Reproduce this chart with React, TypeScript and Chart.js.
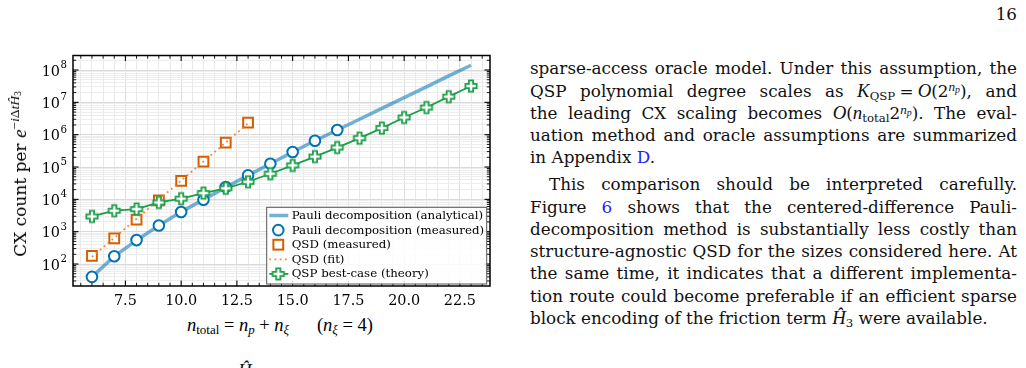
import React, { useEffect, useRef } from 'react';
import { Chart, registerables } from 'chart.js';

Chart.register(...registerables);

// ---------------- data ----------------
const nAnalytical = [6, 7, 8, 9, 10, 11, 12, 13, 14, 15, 16, 17, 18, 19, 20, 21, 22, 23];
const pauliAnalytical = [40, 172, 540, 1550, 4100, 9800, 23500, 55000, 126000, 290000, 650000, 1.4e6, 3.0e6, 6.5e6, 1.4e7, 3.0e7, 6.6e7, 1.4e8];
const nPauliMeasured = [6, 7, 8, 9, 10, 11, 12, 13, 14, 15, 16, 17];
const pauliMeasured = [40, 174, 550, 1550, 4070, 9700, 24000, 55000, 126000, 290000, 650000, 1.4e6];
const nQsd = [6, 7, 8, 9, 10, 11, 12, 13];
const qsdMeasured = [180, 620, 2350, 9300, 37000, 148000, 570000, 2.35e6];
const qsdFit = [166, 646, 2510, 9770, 38000, 148000, 575000, 2.24e6];
const nQsp = [6, 7, 8, 9, 10, 11, 12, 13, 14, 15, 16, 17, 18, 19, 20, 21, 22, 23];
const qspTheory = [2950, 4450, 5000, 8000, 10500, 15600, 22000, 35000, 62000, 112000, 210000, 400000, 780000, 1.6e6, 3.4e6, 6.9e6, 1.5e7, 3.2e7];
const xTickLabels = ['7.5', '10.0', '12.5', '15.0', '17.5', '20.0', '22.5'];
const yTickExponents = [2, 3, 4, 5, 6, 7, 8];
const legendLabels = [
  'Pauli decomposition (analytical)',
  'Pauli decomposition (measured)',
  'QSD (measured)',
  'QSD (fit)',
  'QSP best-case (theory)',
];

// ---------------- styles ----------------
const BLUE = '#0072B2';
const BLUE_LINE = 'rgba(0,114,178,0.55)';
const ORANGE = '#D55E00';
const ORANGE_FIT = 'rgba(236,130,55,0.95)';
const GREEN = '#1a9e48';
const X_MIN = 5.15, X_MAX = 23.85;
const Y_MIN = 20.9, Y_MAX = 2.81e8;
const TICK_FONT = { family: 'DejaVu Serif', size: 14.4 };

const xTickValues: number[] = [];
for (let k = 11; k <= 47; k++) xTickValues.push(k / 2);
const yTickValues: number[] = [];
for (let e = 1; e <= 8; e++) for (let m = 1; m <= 9; m++) {
  const v = m * Math.pow(10, e);
  if (v >= Y_MIN && v <= Y_MAX) yTickValues.push(v);
}

const isMajorX = (v: number) => Math.abs(v / 2.5 - Math.round(v / 2.5)) < 1e-9;
const isDecade = (v: number) => Math.abs(Math.log10(v) - Math.round(Math.log10(v))) < 1e-9;

function makePlus(color: string): HTMLCanvasElement {
  const size = 16;
  const c = document.createElement('canvas');
  c.width = size; c.height = size;
  const g = c.getContext('2d')!;
  const m = size / 2, s = 5.6, w = 2.1;
  g.beginPath();
  g.moveTo(m - w, m - s); g.lineTo(m + w, m - s); g.lineTo(m + w, m - w);
  g.lineTo(m + s, m - w); g.lineTo(m + s, m + w); g.lineTo(m + w, m + w);
  g.lineTo(m + w, m + s); g.lineTo(m - w, m + s); g.lineTo(m - w, m + w);
  g.lineTo(m - s, m + w); g.lineTo(m - s, m - w); g.lineTo(m - w, m - w);
  g.closePath();
  g.fillStyle = '#fff'; g.fill();
  g.lineWidth = 1.8; g.strokeStyle = color; g.lineJoin = 'miter'; g.stroke();
  return c;
}

function ChartPanel() {
  const ref = useRef<HTMLCanvasElement | null>(null);
  useEffect(() => {
    const canvas = ref.current;
    if (!canvas) return;
    const plus = makePlus(GREEN);

    const framePlugin = {
      id: 'frame',
      afterDatasetsDraw(chart: any) {
        const { ctx, chartArea: a, scales } = chart;
        const xs = scales.x, ys = scales.y;
        ctx.save();
        ctx.strokeStyle = '#000';
        const seg = (x1: number, y1: number, x2: number, y2: number) => {
          ctx.beginPath(); ctx.moveTo(x1, y1); ctx.lineTo(x2, y2); ctx.stroke();
        };
        xs.ticks.forEach((t: any) => {
          const px = xs.getPixelForValue(t.value);
          const major = isMajorX(t.value);
          const len = major ? 5.5 : 3.2;
          ctx.lineWidth = major ? 1.1 : 0.9;
          seg(px, a.bottom, px, a.bottom - len);
          seg(px, a.top, px, a.top + len);
        });
        ys.ticks.forEach((t: any) => {
          const py = ys.getPixelForValue(t.value);
          const major = isDecade(t.value);
          const len = major ? 5.5 : 3.2;
          ctx.lineWidth = major ? 1.1 : 0.9;
          seg(a.left, py, a.left + len, py);
          seg(a.right, py, a.right - len, py);
        });
        ctx.lineWidth = 1.5;
        ctx.strokeRect(a.left, a.top, a.right - a.left, a.bottom - a.top);

        // y tick labels: 10 with superscript exponent
        ctx.fillStyle = '#000';
        ctx.textBaseline = 'middle';
        yTickExponents.forEach((e) => {
          const py = ys.getPixelForValue(Math.pow(10, e));
          ctx.font = '10.2px "DejaVu Serif"';
          const ew = ctx.measureText(String(e)).width;
          ctx.textAlign = 'right';
          ctx.fillText(String(e), a.left - 6, py - 4.5);
          ctx.font = '14.4px "DejaVu Serif"';
          ctx.fillText('10', a.left - 6 - ew - 0.5, py + 2);
        });

        // legend
        const bw = 220, bh = 76.7;
        const bx = a.right - 3.3 - bw, by = a.bottom - 2 - bh;
        ctx.fillStyle = 'rgba(255,255,255,0.85)';
        ctx.fillRect(bx, by, bw, bh);
        ctx.lineWidth = 1;
        ctx.strokeStyle = '#555';
        ctx.strokeRect(bx, by, bw, bh);
        ctx.font = '11.8px "DejaVu Serif"';
        ctx.textBaseline = 'middle';
        ctx.textAlign = 'left';
        legendLabels.forEach((label, i) => {
          const cy = by + 8.2 + i * 14.6;
          const hx = bx + 11.6;
          ctx.setLineDash([]);
          if (i === 0) {
            ctx.strokeStyle = BLUE_LINE; ctx.lineWidth = 3.5;
            seg(bx + 2.6, cy, bx + 21.6, cy);
          } else if (i === 1) {
            ctx.beginPath(); ctx.arc(hx, cy, 5.3, 0, Math.PI * 2);
            ctx.fillStyle = '#fff'; ctx.fill();
            ctx.strokeStyle = BLUE; ctx.lineWidth = 2; ctx.stroke();
          } else if (i === 2) {
            ctx.fillStyle = '#fff'; ctx.fillRect(hx - 4.9, cy - 4.9, 9.8, 9.8);
            ctx.strokeStyle = ORANGE; ctx.lineWidth = 2; ctx.strokeRect(hx - 4.9, cy - 4.9, 9.8, 9.8);
          } else if (i === 3) {
            ctx.strokeStyle = ORANGE_FIT; ctx.lineWidth = 1.8; ctx.setLineDash([1.8, 3.4]);
            seg(bx + 2.6, cy, bx + 21.6, cy);
            ctx.setLineDash([]);
          } else {
            ctx.strokeStyle = GREEN; ctx.lineWidth = 1.8;
            seg(bx + 2.6, cy, bx + 21.6, cy);
            ctx.drawImage(plus, hx - plus.width / 2, cy - plus.height / 2);
          }
          ctx.fillStyle = '#000';
          ctx.fillText(label, bx + 25, cy + 0.5);
        });
        ctx.restore();
      },
    };

    const chart = new Chart(canvas, {
      type: 'scatter',
      data: {
        datasets: [
          {
            label: legendLabels[0],
            data: nAnalytical.map((x, i) => ({ x, y: pauliAnalytical[i] })),
            showLine: true, borderColor: BLUE_LINE, borderWidth: 3.5, pointRadius: 0, order: 5,
          },
          {
            label: legendLabels[1],
            data: nPauliMeasured.map((x, i) => ({ x, y: pauliMeasured[i] })),
            showLine: false, pointStyle: 'circle', pointRadius: 5.3, pointBorderWidth: 2,
            pointBorderColor: BLUE, pointBackgroundColor: '#fff', order: 4,
          },
          {
            label: legendLabels[2],
            data: nQsd.map((x, i) => ({ x, y: qsdMeasured[i] })),
            showLine: false, pointStyle: 'rect', pointRadius: 6.9, pointBorderWidth: 2,
            pointBorderColor: ORANGE, pointBackgroundColor: '#fff', order: 3,
          },
          {
            label: legendLabels[3],
            data: nQsd.map((x, i) => ({ x, y: qsdFit[i] })),
            showLine: true, borderColor: ORANGE_FIT, borderWidth: 1.8, borderDash: [1.8, 3.4], pointRadius: 0, order: 2,
          },
          {
            label: legendLabels[4],
            data: nQsp.map((x, i) => ({ x, y: qspTheory[i] })),
            showLine: true, borderColor: GREEN, borderWidth: 1.8, pointStyle: plus, pointRadius: 6,
            order: 1,
          },
        ],
      } as any,
      options: {
        animation: false,
        responsive: false,
        events: [],
        layout: { padding: { top: 15.5, right: 10, left: 0, bottom: 0 } },
        plugins: { legend: { display: false }, tooltip: { enabled: false } },
        scales: {
          x: {
            type: 'linear', min: X_MIN, max: X_MAX,
            afterBuildTicks: (s: any) => { s.ticks = xTickValues.map((v) => ({ value: v })); },
            afterFit: (s: any) => { s.height = 24; },
            ticks: {
              autoSkip: false, maxRotation: 0, minRotation: 0, padding: 7, color: '#000', font: TICK_FONT,
              callback: (v: any) => {
                const lab = Number(v).toFixed(1);
                return xTickLabels.includes(lab) ? lab : '';
              },
            },
            grid: {
              drawTicks: false, lineWidth: 1,
              color: (c: any) => (isMajorX(c.tick.value) ? '#dedede' : '#e9e9e9'),
            },
            border: { display: false },
          },
          y: {
            type: 'logarithmic', min: Y_MIN, max: Y_MAX,
            afterBuildTicks: (s: any) => { s.ticks = yTickValues.map((v) => ({ value: v })); },
            afterFit: (s: any) => { s.width = 73; },
            ticks: { autoSkip: false, padding: 6, color: '#000', font: TICK_FONT, callback: () => '' },
            grid: {
              drawTicks: false, lineWidth: 1,
              color: (c: any) => (isDecade(c.tick.value) ? '#dadada' : '#ededed'),
            },
            border: { display: false },
          },
        },
      } as any,
      plugins: [framePlugin],
    });
    return () => chart.destroy();
  }, []);
  return <canvas ref={ref} width={500} height={270} style={{ position: 'absolute', left: 0, top: 40, display: 'block' }} />;
}

const TEXT_FONT = '"DejaVu Serif", serif';
const TEXT_SIZE = 16.8;
const MATH_FONT = '"Liberation Serif", serif';
const LINK = '#1f1fff';

function Line(props: { i: number; last?: boolean; indent?: boolean; children: React.ReactNode }) {
  const baseline = 74 + props.i * 22.3 + (props.i >= 5 ? 4.5 : 0);
  return (
    <div
      style={{
        position: 'absolute', left: 530, width: 487, top: baseline - 16.8, lineHeight: '22px',
        whiteSpace: 'nowrap',
        textAlign: props.last ? 'left' : 'justify', textAlignLast: props.last ? 'left' : 'justify',
        textIndent: props.indent ? 19 : 0,
      } as any}
    >
      {props.children}
    </div>
  );
}

const sub = { fontSize: '0.7em', verticalAlign: '-0.25em', lineHeight: 0 } as const;
const sup = { fontSize: '0.7em', verticalAlign: '0.45em', lineHeight: 0 } as const;
const mi = { fontFamily: MATH_FONT, fontStyle: 'italic', fontSize: '1.12em' } as const;
const T = '\u2005';

export default function App() {
  return (
    <div style={{ position: 'absolute', left: 0, top: 0, width: 1026, height: 368, overflow: 'hidden', background: '#fff', color: '#111' }}>
      <ChartPanel />
      {/* y axis label */}
      <div style={{ position: 'absolute', left: 20, top: 174, transform: 'translate(-50%,-50%) rotate(-90deg)', whiteSpace: 'nowrap', fontFamily: '"DejaVu Serif", serif', fontSize: 17, color: '#000', lineHeight: '20px' }}>
        CX count per <i style={{ fontFamily: MATH_FONT, fontSize: 19 }}>e</i>
        <span style={{ fontFamily: MATH_FONT, fontSize: 13.5, verticalAlign: '0.55em', lineHeight: 0 }}>
          −<i>i</i>Δ<i>t</i><i>Ĥ</i><span style={{ fontSize: 9.5, verticalAlign: '-0.2em' }}>3</span>
        </span>
      </div>
      {/* x axis label */}
      <div style={{ position: 'absolute', left: 280, top: 314, transform: 'translateX(-50%)', whiteSpace: 'nowrap', fontFamily: MATH_FONT, fontSize: 18.5, color: '#000', lineHeight: '22px' }}>
        <i>n</i><span style={sub}>total</span>{T}={T}<i>n</i><span style={sub}><i>p</i></span>{T}+{T}<i>n</i><span style={sub}><i>ξ</i></span>
        {'\u2003\u2002'}(<i>n</i><span style={sub}><i>ξ</i></span>{T}={T}4)
      </div>
      {/* page number */}
      <div style={{ position: 'absolute', right: 1026 - 1017, top: 3.2, fontFamily: TEXT_FONT, fontSize: TEXT_SIZE, lineHeight: '22px' }}>16</div>
      {/* body text */}
      <div style={{ fontFamily: TEXT_FONT, fontSize: TEXT_SIZE }}>
        <Line i={0}>sparse-access oracle model. Under this assumption, the</Line>
        <Line i={1}>QSP polynomial degree scales as <i style={mi}>K</i><span style={sub}>QSP</span>{T}={T}<i style={mi}>O</i>(2<span style={sup}><i style={mi}>n<span style={{ fontSize: '0.75em', verticalAlign: '-0.2em' }}>p</span></i></span>), and</Line>
        <Line i={2}>the leading CX scaling becomes <i style={mi}>O</i>(<i style={mi}>n</i><span style={sub}>total</span>2<span style={sup}><i style={mi}>n<span style={{ fontSize: '0.75em', verticalAlign: '-0.2em' }}>p</span></i></span>). The eval-</Line>
        <Line i={3}>uation method and oracle assumptions are summarized</Line>
        <Line i={4} last>in Appendix <span style={{ color: LINK }}>D</span>.</Line>
        <Line i={5} indent>This comparison should be interpreted carefully.</Line>
        <Line i={6}>Figure <span style={{ color: LINK }}>6</span> shows that the centered-difference Pauli-</Line>
        <Line i={7}>decomposition method is substantially less costly than</Line>
        <Line i={8}>structure-agnostic QSD for the sizes considered here. At</Line>
        <Line i={9}>the same time, it indicates that a different implementa-</Line>
        <Line i={10}>tion route could become preferable if an efficient sparse</Line>
        <Line i={11} last>block encoding of the friction term <i style={mi}>Ĥ</i><span style={sub}>3</span> were available.</Line>
        <div style={{ position: 'absolute', left: 238, top: 377 - 16.8, lineHeight: '22px' }}><i style={mi}>Ĥ</i></div>
      </div>
    </div>
  );
}
